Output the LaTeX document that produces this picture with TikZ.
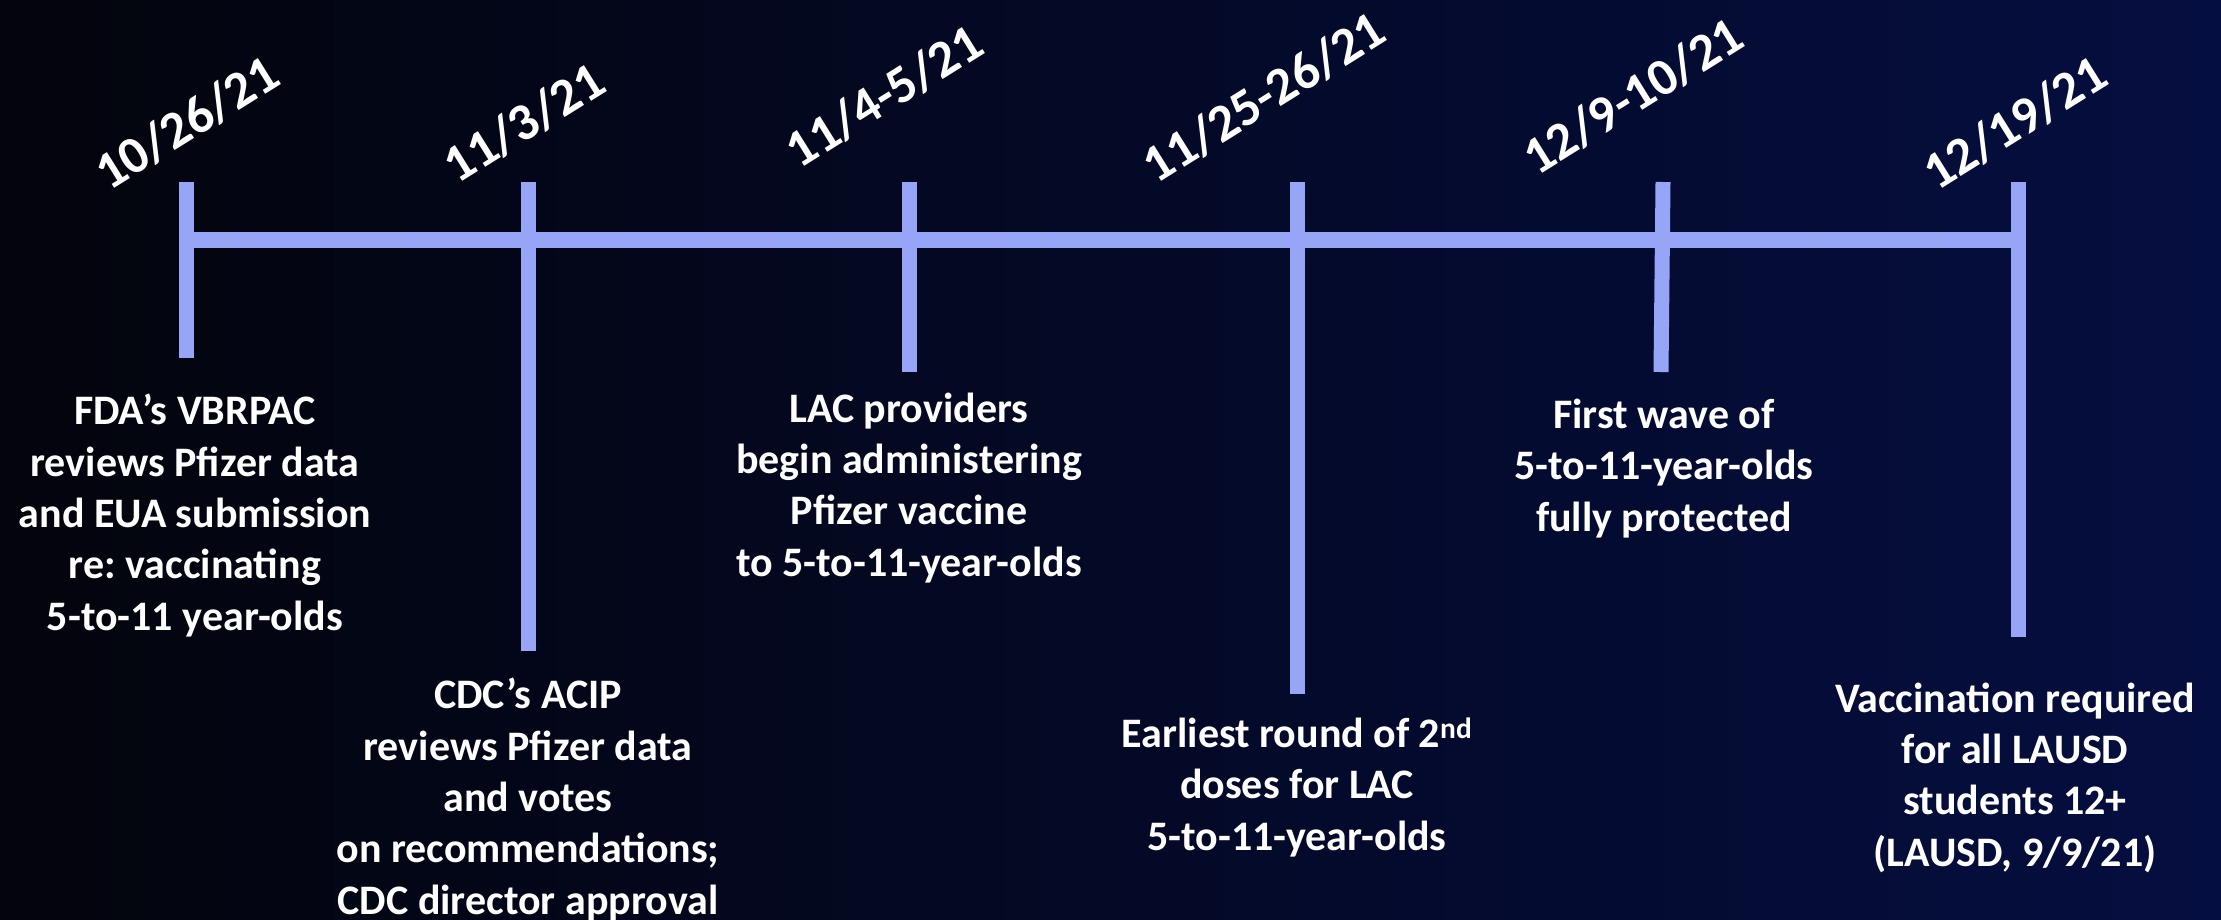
\documentclass[tikz,border=0pt]{standalone}
\usepackage{fontspec}
\setmainfont{Carlito}
\usepackage{tikz}
\usetikzlibrary{positioning}
\frenchspacing
\definecolor{bgleft}{RGB}{3,4,12}
\definecolor{bgmid}{RGB}{3,10,46}
\definecolor{bgright}{RGB}{5,14,64}
\definecolor{periwinkle}{RGB}{150,165,245}
\tikzstyle{tick} = [line width=15pt, periwinkle]
\tikzstyle{bar} = [line width=16pt, periwinkle]
\tikzstyle{datelbl} = [rotate=32, text=white, inner sep=0pt, font=\bfseries\fontsize{52.5}{60}\selectfont]
\tikzstyle{event} = [anchor=base, align=center, text=white, inner sep=0pt, font=\bfseries\fontsize{42}{51.3}\selectfont]

\begin{document}
\begin{tikzpicture}[x=1pt,y=-1pt]
    \useasboundingbox (0,0) rectangle (2221,919);
    \shade [left color=bgleft, middle color=bgmid, right color=bgright] (0,0) rectangle (2221,919);
    % tick ends
    \coordinate (t1a) at (186,182); \coordinate (t1b) at (186,358);
    \coordinate (t2a) at (528,182); \coordinate (t2b) at (528,651);
    \coordinate (t3a) at (909,182); \coordinate (t3b) at (909,372);
    \coordinate (t4a) at (1297,182); \coordinate (t4b) at (1297,694);
    \coordinate (t5a) at (1663,182); \coordinate (t5b) at (1661,372);
    \coordinate (t6a) at (2018,182); \coordinate (t6b) at (2018,637);
    \coordinate (barL) at (179,240); \coordinate (barR) at (2026,240);
    \draw [bar] (barL) -- (barR);
    \foreach \i in {1,...,6}
        \draw [tick] (t\i a) -- (t\i b);
    % dates
    \node [datelbl] (d1) at (187,123) {10/26/21};
    \node [datelbl] (d2) at (524,123) {11/3/21};
    \node [datelbl] (d3) at (884,96) {11/4-5/21};
    \node [datelbl] (d4) at (1264,97) {11/25-26/21};
    \node [datelbl] (d5) at (1633,96) {12/9-10/21};
    \node [datelbl] (d6) at (2015,123) {12/19/21};
    % events (anchored on the last line)
    \node [event] (e1) at (195,630) {FDA’s VBRPAC\\reviews Pfizer data\\and EUA submission\\re: vaccinating\\5-to-11 year-olds};
    \node [event] (e2) at (528,914) {CDC’s ACIP\\reviews Pfizer data\\and votes\\on recommendations;\\CDC director approval};
    \node [event] (e3) at (909,576) {LAC providers\\begin administering\\Pfizer vaccine\\to 5-to-11-year-olds};
    \node [event] (e4) at (1297,850) {Earliest round of 2\textsuperscript{nd}\\doses for LAC\\5-to-11-year-olds};
    \node [event] (e5) at (1664,531) {First wave of\\5-to-11-year-olds\\fully protected};
    \node [event] (e6) at (2015,866) {Vaccination required\\for all LAUSD\\students 12+\\(LAUSD, 9/9/21)};
\end{tikzpicture}
\end{document}
